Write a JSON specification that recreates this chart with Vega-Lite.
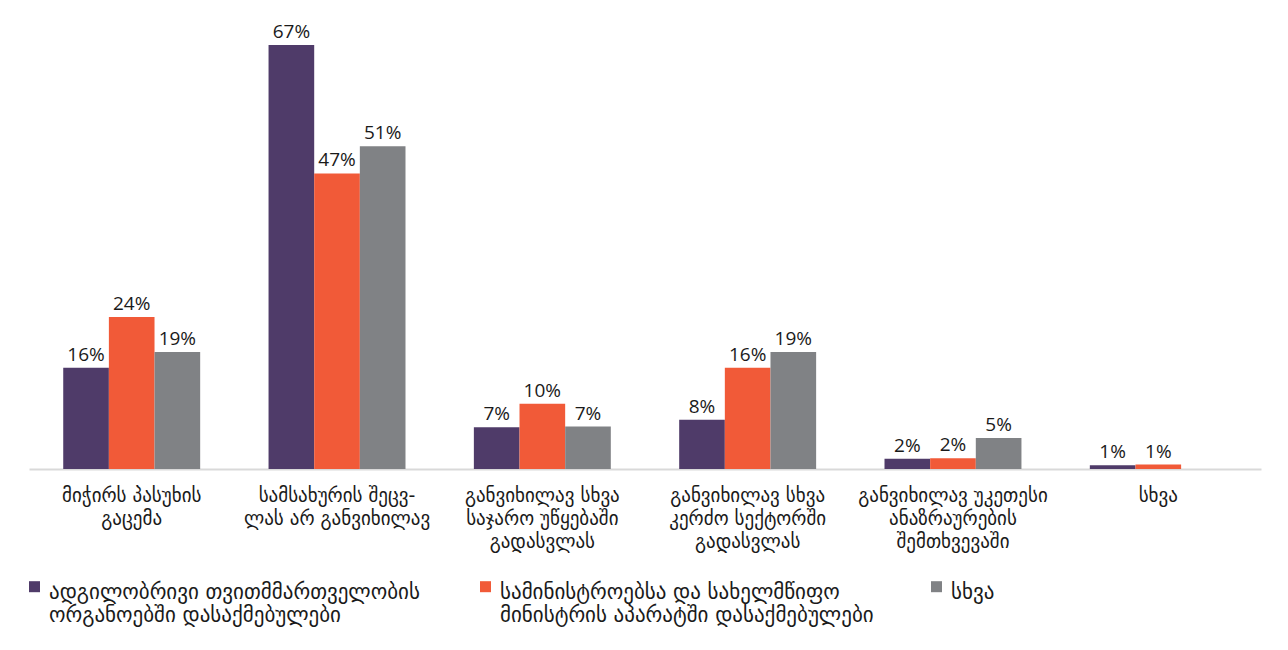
{
  "$schema": "https://vega.github.io/schema/vega-lite/v6.json",
  "autosize": {"type": "none"},
  "width": 1232,
  "height": 443,
  "padding": {"left": 29, "top": 26, "right": 27, "bottom": 181},
  "background": "white",
  "config": {
    "view": {"stroke": null},
    "font": "DejaVu Sans"
  },
  "data": {
    "values": [
      {"category": "მიჭირს პასუხის\nგაცემა", "series": "ადგილობრივი თვითმმართველობის ორგანოებში დასაქმებულები", "value": 0.16},
      {"category": "მიჭირს პასუხის\nგაცემა", "series": "სამინისტროებსა და სახელმწიფო მინისტრის აპარატში დასაქმებულები", "value": 0.24},
      {"category": "მიჭირს პასუხის\nგაცემა", "series": "სხვა", "value": 0.185},
      {"category": "სამსახურის შეცვ-\nლას არ განვიხილავ", "series": "ადგილობრივი თვითმმართველობის ორგანოებში დასაქმებულები", "value": 0.67},
      {"category": "სამსახურის შეცვ-\nლას არ განვიხილავ", "series": "სამინისტროებსა და სახელმწიფო მინისტრის აპარატში დასაქმებულები", "value": 0.467},
      {"category": "სამსახურის შეცვ-\nლას არ განვიხილავ", "series": "სხვა", "value": 0.51},
      {"category": "განვიხილავ სხვა\nსაჯარო უწყებაში\nგადასვლას", "series": "ადგილობრივი თვითმმართველობის ორგანოებში დასაქმებულები", "value": 0.066},
      {"category": "განვიხილავ სხვა\nსაჯარო უწყებაში\nგადასვლას", "series": "სამინისტროებსა და სახელმწიფო მინისტრის აპარატში დასაქმებულები", "value": 0.103},
      {"category": "განვიხილავ სხვა\nსაჯარო უწყებაში\nგადასვლას", "series": "სხვა", "value": 0.067},
      {"category": "განვიხილავ სხვა\nკერძო სექტორში\nგადასვლას", "series": "ადგილობრივი თვითმმართველობის ორგანოებში დასაქმებულები", "value": 0.078},
      {"category": "განვიხილავ სხვა\nკერძო სექტორში\nგადასვლას", "series": "სამინისტროებსა და სახელმწიფო მინისტრის აპარატში დასაქმებულები", "value": 0.16},
      {"category": "განვიხილავ სხვა\nკერძო სექტორში\nგადასვლას", "series": "სხვა", "value": 0.185},
      {"category": "განვიხილავ უკეთესი\nანაზრაურების\nშემთხვევაში", "series": "ადგილობრივი თვითმმართველობის ორგანოებში დასაქმებულები", "value": 0.016},
      {"category": "განვიხილავ უკეთესი\nანაზრაურების\nშემთხვევაში", "series": "სამინისტროებსა და სახელმწიფო მინისტრის აპარატში დასაქმებულები", "value": 0.017},
      {"category": "განვიხილავ უკეთესი\nანაზრაურების\nშემთხვევაში", "series": "სხვა", "value": 0.049},
      {"category": "სხვა", "series": "ადგილობრივი თვითმმართველობის ორგანოებში დასაქმებულები", "value": 0.006},
      {"category": "სხვა", "series": "სამინისტროებსა და სახელმწიფო მინისტრის აპარატში დასაქმებულები", "value": 0.007}
    ]
  },
  "encoding": {
    "x": {
      "field": "category",
      "type": "nominal",
      "sort": null,
      "scale": {"paddingInner": 0.333, "paddingOuter": 0.1667},
      "axis": {
        "title": null,
        "labelAngle": 0,
        "labelExpr": "split(datum.label, '\\n')",
        "labelFontSize": 19,
        "labelLineHeight": 23,
        "labelPadding": 17,
        "labelColor": "#1a1a1a",
        "labelLimit": 300,
        "ticks": false,
        "domainColor": "#d9d9d9",
        "domainWidth": 2
      }
    },
    "xOffset": {
      "field": "series",
      "type": "nominal",
      "sort": [
        "ადგილობრივი თვითმმართველობის ორგანოებში დასაქმებულები",
        "სამინისტროებსა და სახელმწიფო მინისტრის აპარატში დასაქმებულები",
        "სხვა"
      ],
      "scale": {"paddingInner": 0, "paddingOuter": 0}
    },
    "y": {
      "field": "value",
      "type": "quantitative",
      "scale": {"domain": [0, 0.7]},
      "axis": null
    }
  },
  "layer": [
    {
      "mark": {"type": "bar"},
      "encoding": {
        "color": {
          "field": "series",
          "type": "nominal",
          "sort": [
            "ადგილობრივი თვითმმართველობის ორგანოებში დასაქმებულები",
            "სამინისტროებსა და სახელმწიფო მინისტრის აპარატში დასაქმებულები",
            "სხვა"
          ],
          "scale": {"range": ["#4f3b69", "#f15a38", "#808285"]},
          "legend": {
            "title": null,
            "orient": "none",
            "legendX": -5,
            "legendY": 556,
            "direction": "horizontal",
            "columns": 3,
            "gridAlign": "all",
            "columnPadding": 52,
            "symbolType": "M-1,-2.1H1V-0.1H-1Z",
            "symbolSize": 121,
            "symbolStrokeWidth": 0,
            "labelFontSize": 21,
            "labelLineHeight": 25,
            "labelColor": "#1a1a1a",
            "labelLimit": 600,
            "labelOffset": 4,
            "labelBaseline": "middle",
            "labelExpr": "datum.label == 'სხვა' ? ['სხვა', ''] : datum.label == 'ადგილობრივი თვითმმართველობის ორგანოებში დასაქმებულები' ? ['ადგილობრივი თვითმმართველობის', 'ორგანოებში დასაქმებულები'] : ['სამინისტროებსა და სახელმწიფო', 'მინისტრის აპარატში დასაქმებულები']"
          }
        }
      }
    },
    {
      "mark": {"type": "text", "baseline": "alphabetic", "dy": -7, "fontSize": 19, "font": "Open Sans", "color": "#1a1a1a"},
      "encoding": {
        "text": {"field": "value", "type": "quantitative", "format": ".0%"}
      }
    }
  ]
}
